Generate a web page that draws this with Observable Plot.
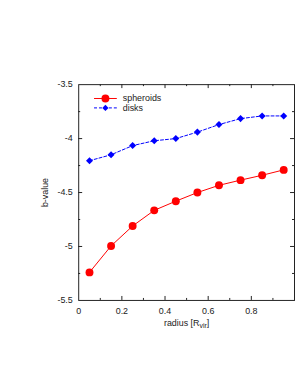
<!DOCTYPE html>
<html>
<head>
<meta charset="utf-8">
<script src="https://cdn.jsdelivr.net/npm/d3@7"></script>
<script src="https://cdn.jsdelivr.net/npm/@observablehq/plot@0.6"></script>
<style>
  html, body { margin: 0; padding: 0; background: #fff; overflow: hidden; }
  #chart { width: 295px; height: 382px; overflow: hidden; }
</style>
</head>
<body>
<div id="chart"></div>
<script>
// ---- data ----
const radius    = [0.05, 0.15, 0.25, 0.35, 0.45, 0.55, 0.65, 0.75, 0.85, 0.95];
const spheroids = [-5.24, -4.995, -4.81, -4.665, -4.58, -4.50, -4.433, -4.385, -4.34, -4.29];
const disks     = [-4.205, -4.15, -4.065, -4.02, -4.00, -3.94, -3.87, -3.815, -3.79, -3.79];
const seriesNames = ["spheroids", "disks"];
const xTickLabels = [0, 0.2, 0.4, 0.6, 0.8];
const yTickLabels = [-5.5, -5, -4.5, -4, -3.5];
const xMajorTicks = [0.2, 0.4, 0.6, 0.8];
const xMinorTicks = [0.1, 0.3, 0.5, 0.7, 0.9];
const yMajorTicks = [-5, -4.5, -4];
const yMinorTicks = [-5.25, -4.75, -4.25, -3.75];

const sph = radius.map((r, i) => ({r, b: spheroids[i]}));
const dsk = radius.map((r, i) => ({r, b: disks[i]}));

const W = 298, H = 382, mL = 79, mR = 1, mT = 85, mB = 79;
const pw = W - mL - mR, ph = H - mT - mB;
const ink = "#222";

const plot = Plot.plot({
  width: W, height: H,
  marginLeft: mL, marginRight: mR, marginTop: mT, marginBottom: mB,
  x: {domain: [0, 1]},
  y: {domain: [-5.5, -3.5]},
  style: {fontFamily: "'Liberation Sans', Arial, sans-serif", fontSize: "9px", color: ink, background: "white", overflow: "visible"},
  marks: [
    Plot.frame({stroke: ink, strokeWidth: 1}),
    // inward ticks, bottom & top
    Plot.tickX(xMajorTicks, {x: d => d, insetTop: ph - 4, stroke: ink}),
    Plot.tickX(xMinorTicks, {x: d => d, insetTop: ph - 2, stroke: ink}),
    Plot.tickX(xMajorTicks, {x: d => d, insetBottom: ph - 4, stroke: ink}),
    Plot.tickX(xMinorTicks, {x: d => d, insetBottom: ph - 2, stroke: ink}),
    // inward ticks, left & right
    Plot.tickY(yMajorTicks, {y: d => d, insetRight: pw - 4, stroke: ink}),
    Plot.tickY(yMinorTicks, {y: d => d, insetRight: pw - 2, stroke: ink}),
    Plot.tickY(yMajorTicks, {y: d => d, insetLeft: pw - 4, stroke: ink}),
    Plot.tickY(yMinorTicks, {y: d => d, insetLeft: pw - 2, stroke: ink}),
    Plot.axisX({ticks: xTickLabels, tickSize: 0, tickPadding: 7, tickFormat: d => String(d),
      label: "radius [Rvir]", labelAnchor: "center", labelOffset: 26, labelArrow: "none"}),
    Plot.axisY({ticks: yTickLabels, tickSize: 0, tickPadding: 6, tickFormat: d => String(d),
      label: "b-value", labelAnchor: "center", labelOffset: 37, labelArrow: "none"}),
    Plot.line(sph, {x: "r", y: "b", stroke: "#ff0000", strokeWidth: 1}),
    Plot.dot(sph, {x: "r", y: "b", r: 4, fill: "#ff0000", stroke: "none", symbol: "circle"}),
    Plot.line(dsk, {x: "r", y: "b", stroke: "#0000ff", strokeWidth: 1, strokeDasharray: "3,2"}),
    Plot.dot(dsk, {x: "r", y: "b", r: 3.2, fill: "#0000ff", stroke: "none", symbol: "diamond2"})
  ]
});
document.getElementById("chart").append(plot);

const svg = d3.select(plot);
// strip any label arrows and add the subscript in the x-axis label
svg.selectAll("text").each(function() {
  const s = this.textContent.replace(/\s*[→↑←↓]\s*/g, "").trim();
  if (s === "radius [Rvir]") {
    const t = d3.select(this);
    t.text("");
    t.append("tspan").text("radius [R");
    t.append("tspan").attr("font-size", "7px").attr("dy", "2").text("vir");
    t.append("tspan").attr("dy", "-2").text("]");
  } else if (s === "b-value") {
    this.textContent = s;
  }
});

// legend inside the plot (top-left)
const lg = svg.append("g")
  .attr("font-family", "'Liberation Sans', Arial, sans-serif")
  .attr("font-size", "9px").attr("fill", ink).attr("text-anchor", "start");
const items = [
  {name: seriesNames[0], color: "#ff0000", dash: null, sym: d3.symbolCircle, size: Math.PI * 16},
  {name: seriesNames[1], color: "#0000ff", dash: "3,2", sym: d3.symbolSquare, size: 20}
];
items.forEach((it, i) => {
  const y = 99.5 + i * 9.5;
  lg.append("line").attr("x1", 95).attr("x2", 118).attr("y1", y).attr("y2", y)
    .attr("stroke", it.color).attr("stroke-width", 1).attr("stroke-dasharray", it.dash);
  const p = lg.append("path").attr("d", d3.symbol(it.sym, it.size)()).attr("fill", it.color);
  p.attr("transform", i === 1 ? `translate(106.5,${y}) rotate(45)` : `translate(106.5,${y})`);
  lg.append("text").attr("x", 124).attr("y", y).attr("dy", "0.32em").attr("text-anchor", "start").text(it.name);
});
</script>
</body>
</html>
